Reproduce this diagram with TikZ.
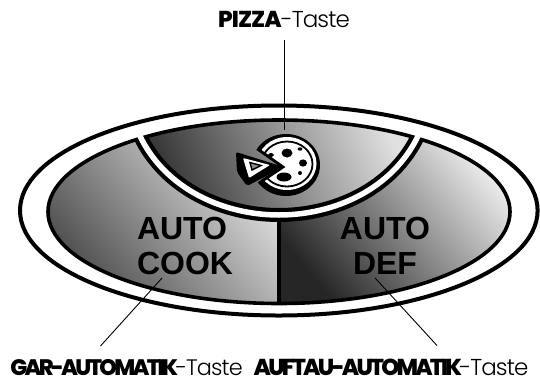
\documentclass[tikz,border=0pt]{standalone}
\usepackage{fontspec}
\usepackage{xcolor}
\newfontfamily\labelfont[LetterSpace=-4,BoldFont={Poppins ExtraBold}]{Poppins Light}
\newfontfamily\tightfont[LetterSpace=-4,BoldFont={Poppins ExtraBold},BoldFeatures={LetterSpace=-12}]{Poppins Light}
\newfontfamily\arialfont{Liberation Sans}
\tikzset{
	leaderline/.style={line width=0.9pt},
	btnlabel/.style={font=\arialfont\bfseries\fontsize{32}{35}\selectfont,inner sep=0pt},
	tastelabel/.style={inner sep=0pt,outer ysep=13pt,anchor=base}
}
\begin{document}
\begin{tikzpicture}[x=1pt,y=-1pt]
	\useasboundingbox (0,0) rectangle (540,381);
	\def\inner{(279,211.75) ellipse [x radius=231,y radius=91.75]}
	\def\arcband{(139,134) .. controls (165,190) and (225,215) .. (279,215) .. controls (333,215) and (393,190) .. (419,134)}

	% the three keys
	\begin{scope}
		\clip \inner;
		\shade[top color=black!8,bottom color=black!70,shading angle=-50] (48,120) rectangle (279,303);
		\shade[top color=black!5,bottom color=black!85,shading angle=-50] (279,120) rectangle (510,303);
		\shade[top color=black!12,bottom color=black!80,shading angle=-65] \arcband -- (419,110) -- (139,110) -- cycle;
		\draw[line width=14pt] \arcband;
		\draw[line width=4pt] (279,215) -- (279,303);
	\end{scope}
	\draw[line width=4pt] (278.8,210.5) ellipse [x radius=258.8,y radius=105];
	\draw[line width=3.6pt] \inner;
	\draw[white,line width=5.5pt] (135,126) -- \arcband -- (423,126);

	% pizza
	\begin{scope}
		\clip (335,125) -- (335,200) -- (230,200) -- (230,199) -- (283,167) -- (230,133) -- (230,125) -- cycle;
		\fill (286,165) ellipse [x radius=34,y radius=31];
		\fill[white] (287,163.5) ellipse [x radius=29.5,y radius=26.5];
		\draw[line width=1.8pt] (287,164) ellipse [x radius=25.5,y radius=22.5];
		\fill (287,153) ellipse [x radius=5.5,y radius=4.5];
		\fill (300,149) ellipse [x radius=2.4,y radius=1.7];
		\fill (303,163) ellipse [x radius=4,y radius=3.6];
		\fill (300,173) circle (2);
		\fill (284,177) ellipse [x radius=7.5,y radius=4.5];
		\fill (271,155) ellipse [x radius=2.8,y radius=2];
	\end{scope}
	\draw[line width=2.8pt,line join=miter] (259,150) -- (283,167) -- (262,181);

	% slice
	\fill[rounded corners=2pt] (236,152) -- (284,167) -- (247,186) -- (237,172) -- cycle;
	\fill[white,rounded corners=1pt] (243,158) -- (270,165) -- (249,178) -- cycle;
	\draw[line width=1.4pt,fill=black!45] (250,162.5) -- (261,165.5) -- (252,170) -- cycle;

	% labels
	\node[btnlabel,align=left] (cooklabel) at (185,246) {AUTO\\COOK};
	\node[btnlabel,align=center] (deflabel) at (385,246) {AUTO\\DEF};
	\node[tastelabel,font=\labelfont\fontsize{23}{25}\selectfont] (pizzalabel) at (284,27) {\textbf{PIZZA}-Taste};
	\node[tastelabel,font=\tightfont\fontsize{22.4}{25}\selectfont] (garlabel) at (126.5,375) {\textbf{GAR-AUTOMATIK}-Taste};
	\node[tastelabel,font=\tightfont\fontsize{23}{25}\selectfont] (auftaulabel) at (391,375) {\textbf{AUFTAU-AUTOMATIK}-Taste};

	\coordinate (pizzaend) at (284,130);
	\draw[leaderline] (pizzalabel.south) -- (pizzaend);
	\draw[leaderline] ([xshift=-26pt]garlabel.north) -- ([xshift=-23pt,yshift=-3pt]cooklabel.south);
	\draw[leaderline] ([xshift=46pt]auftaulabel.north) -- ([xshift=-10pt,yshift=-3pt]deflabel.south);
\end{tikzpicture}
\end{document}
